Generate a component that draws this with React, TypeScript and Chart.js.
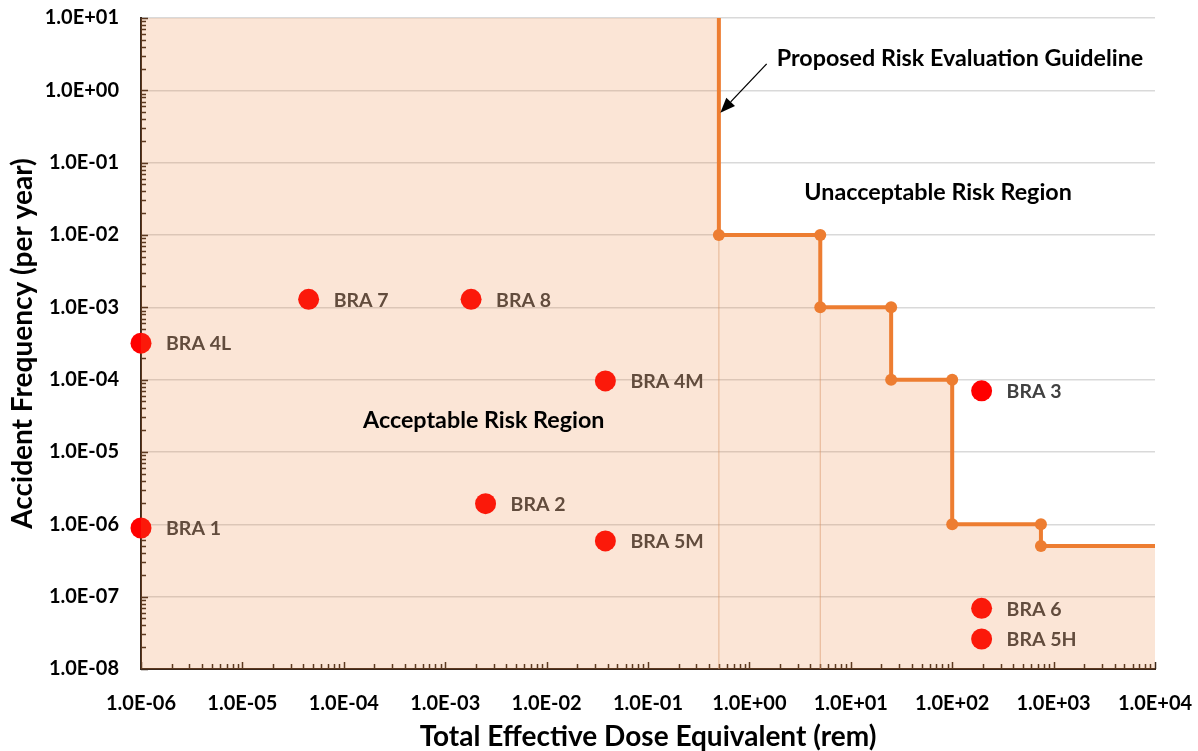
import { useEffect, useRef } from "react";
import { Chart, registerables } from "chart.js";

Chart.register(...registerables);

// Axis ranges (log decades)
const doseMin = 1e-6;
const doseMax = 1e4;
const freqMin = 1e-8;
const freqMax = 10;

// Assessed accident scenarios
const braNames = ["BRA 1", "BRA 4L", "BRA 7", "BRA 8", "BRA 2", "BRA 4M", "BRA 5M", "BRA 3", "BRA 6", "BRA 5H"];
const braDose = [1e-6, 1e-6, 4.5e-5, 1.8e-3, 2.5e-3, 3.8e-2, 3.8e-2, 195, 195, 195];
const braFreq = [8.9e-7, 3.2e-4, 1.29e-3, 1.29e-3, 1.93e-6, 9.6e-5, 5.9e-7, 7e-5, 6.9e-8, 2.6e-8];

// Proposed risk evaluation guideline (stepped frequency/dose limit)
const guideDose = [0.5, 0.5, 5, 5, 25, 25, 100, 100, 750, 750, 1e4];
const guideFreq = [10, 1e-2, 1e-2, 1e-3, 1e-3, 1e-4, 1e-4, 1e-6, 1e-6, 5e-7, 5e-7];

// Faint drop lines under the first two steps
const dropDose = [0.5, 5];
const dropTop = [1e-2, 1e-3];

// Region and guideline annotations (anchored in data coordinates)
const noteTexts = ["Proposed Risk Evaluation Guideline", "Unacceptable Risk Region", "Acceptable Risk Region"];
const noteDose = [1.86, 72.6, 2.4e-3];
const noteFreq = [2.76, 0.039, 2.7e-5];
const noteAlign: CanvasTextAlign[] = ["left", "center", "center"];
const arrowFrom = { x: 1.48, y: 2.32 };
const arrowTo = { x: 0.517, y: 0.49 };

const FONT = "Lato, 'Open Sans', sans-serif";
const ORANGE = "#ED7D31";
const AXIS = "#3a281c";

const fmtExp = (v: number) => {
  const e = Math.round(Math.log10(v));
  const sign = e < 0 ? "-" : "+";
  const abs = Math.abs(e);
  return `1.0E${sign}${abs < 10 ? "0" + abs : abs}`;
};

const decadeTicks = (lo: number, hi: number) => {
  const out: { value: number; major: boolean }[] = [];
  for (let e = Math.round(Math.log10(lo)); e <= Math.round(Math.log10(hi)); e++) {
    out.push({ value: Math.pow(10, e), major: true });
  }
  return out;
};

// dataset order in the array: guideline, region fill, drop lines..., scenarios
const SCATTER_INDEX = 2 + dropDose.length;

export default function App() {
  const canvasRef = useRef<HTMLCanvasElement | null>(null);

  useEffect(() => {
    const canvas = canvasRef.current;
    if (!canvas) return;

    const guidePts = guideDose.map((x, i) => ({ x, y: guideFreq[i] }));
    const regionPts = [{ x: doseMin, y: freqMax }, ...guidePts];
    const markerRadius = guidePts.map((_, i) => (i === 0 || i === guidePts.length - 1 ? 0 : 6));

    // Inward minor/major tick marks on both log axes
    const innerTicks = {
      id: "innerTicks",
      beforeDatasetsDraw(chart: any) {
        const { ctx, chartArea, scales } = chart;
        const xs = scales.x;
        const ys = scales.y;
        ctx.save();
        ctx.strokeStyle = AXIS;
        ctx.lineWidth = 1.5;
        ctx.beginPath();
        for (let e = Math.log10(freqMin); e <= Math.log10(freqMax); e++) {
          for (let m = 1; m <= 9; m++) {
            const v = m * Math.pow(10, e);
            if (v > freqMax * 1.0001) break;
            const py = Math.round(ys.getPixelForValue(v)) + 0.5;
            const len = m === 1 ? 7 : 5;
            ctx.moveTo(chartArea.left, py);
            ctx.lineTo(chartArea.left + len, py);
          }
        }
        for (let e = Math.log10(doseMin); e <= Math.log10(doseMax); e++) {
          for (let m = 1; m <= 9; m++) {
            const v = m * Math.pow(10, e);
            if (v > doseMax * 1.0001) break;
            const px = Math.round(xs.getPixelForValue(v)) + 0.5;
            const len = m === 1 ? 7 : 5;
            ctx.moveTo(px, chartArea.bottom);
            ctx.lineTo(px, chartArea.bottom - len);
          }
        }
        ctx.stroke();
        ctx.restore();
      },
    };

    // Scenario names beside each point (drawn right after the points)
    const pointLabels = {
      id: "pointLabels",
      afterDatasetDraw(chart: any, args: any) {
        if (args.index !== SCATTER_INDEX) return;
        const { ctx } = chart;
        const meta = chart.getDatasetMeta(SCATTER_INDEX);
        ctx.save();
        ctx.font = `bold 19.5px ${FONT}`;
        ctx.fillStyle = "#404040";
        ctx.textAlign = "left";
        ctx.textBaseline = "middle";
        meta.data.forEach((pt: any, i: number) => {
          ctx.fillText(braNames[i], pt.x + 25, pt.y + 1);
        });
        ctx.restore();
      },
    };

    // Region captions and the guideline call-out arrow
    const annotations = {
      id: "annotations",
      afterDatasetsDraw(chart: any) {
        const { ctx, scales } = chart;
        const xs = scales.x;
        const ys = scales.y;
        ctx.save();
        ctx.font = `bold 23.3px ${FONT}`;
        ctx.fillStyle = "#000000";
        ctx.textBaseline = "middle";
        noteTexts.forEach((t, i) => {
          ctx.textAlign = noteAlign[i];
          ctx.fillText(t, xs.getPixelForValue(noteDose[i]), ys.getPixelForValue(noteFreq[i]));
        });
        const x0 = xs.getPixelForValue(arrowFrom.x);
        const y0 = ys.getPixelForValue(arrowFrom.y);
        const x1 = xs.getPixelForValue(arrowTo.x);
        const y1 = ys.getPixelForValue(arrowTo.y);
        const ang = Math.atan2(y1 - y0, x1 - x0);
        const headLen = 15;
        const headHalf = 6;
        const bx = x1 - headLen * Math.cos(ang);
        const by = y1 - headLen * Math.sin(ang);
        ctx.strokeStyle = "#000000";
        ctx.lineWidth = 1.3;
        ctx.beginPath();
        ctx.moveTo(x0, y0);
        ctx.lineTo(bx, by);
        ctx.stroke();
        ctx.beginPath();
        ctx.moveTo(x1, y1);
        ctx.lineTo(bx + headHalf * Math.sin(ang), by - headHalf * Math.cos(ang));
        ctx.lineTo(bx - headHalf * Math.sin(ang), by + headHalf * Math.cos(ang));
        ctx.closePath();
        ctx.fill();
        ctx.restore();
      },
    };

    const chart = new Chart(canvas, {
      type: "scatter",
      data: {
        datasets: [
          {
            label: "Proposed Risk Evaluation Guideline",
            data: guidePts,
            showLine: true,
            borderColor: ORANGE,
            borderWidth: 4,
            backgroundColor: ORANGE,
            pointBackgroundColor: ORANGE,
            pointBorderWidth: 0,
            pointRadius: markerRadius,
            fill: false,
            order: 0,
            clip: 6,
          } as any,
          {
            label: "Acceptable Risk Region",
            data: regionPts,
            showLine: true,
            borderWidth: 0,
            borderColor: "rgba(0,0,0,0)",
            backgroundColor: "rgba(237,125,49,0.2)",
            pointRadius: 0,
            fill: "start",
            order: 1,
          } as any,
          ...dropDose.map((d, i) => ({
            label: "drop",
            data: [
              { x: d, y: dropTop[i] },
              { x: d, y: freqMin },
            ],
            showLine: true,
            borderColor: "rgba(215,160,125,0.25)",
            borderWidth: 1,
            pointRadius: 0,
            fill: false,
            order: 2,
          })) as any,
          {
            label: "Scenarios",
            data: braDose.map((x, i) => ({ x, y: braFreq[i] })),
            backgroundColor: "#FF0000",
            pointBackgroundColor: "#FF0000",
            pointBorderWidth: 0,
            pointRadius: 10.5,
            clip: false,
            order: 3,
          } as any,
        ],
      },
      options: {
        animation: false,
        responsive: false,
        events: [],
        layout: { padding: { top: 18, right: 43, bottom: 0, left: 0 } },
        plugins: {
          legend: { display: false },
          tooltip: { enabled: false },
        },
        scales: {
          x: {
            type: "logarithmic",
            min: doseMin,
            max: doseMax,
            afterFit: (s: any) => {
              s.height = 82;
              s.paddingLeft = 0;
              s.paddingRight = 0;
            },
            afterBuildTicks: (s: any) => {
              s.ticks = decadeTicks(doseMin, doseMax);
            },
            grid: { display: false, drawTicks: false },
            border: { display: true, color: AXIS, width: 2 },
            ticks: {
              autoSkip: false,
              maxRotation: 0,
              minRotation: 0,
              padding: 23,
              color: "#000000",
              font: { family: FONT, size: 20, weight: "bold" },
              callback: (v: any) => fmtExp(Number(v)),
            },
            title: {
              display: true,
              text: "Total Effective Dose Equivalent (rem)",
              color: "#000000",
              font: { family: FONT, size: 28, weight: "bold", lineHeight: 1.0 },
              padding: { top: 0, bottom: 0 },
            },
          },
          y: {
            type: "logarithmic",
            min: freqMin,
            max: freqMax,
            afterFit: (s: any) => {
              s.width = 141;
              s.paddingTop = 0;
              s.paddingBottom = 0;
            },
            afterBuildTicks: (s: any) => {
              s.ticks = decadeTicks(freqMin, freqMax);
            },
            grid: { display: true, drawTicks: false, color: "#D9D9D9", lineWidth: 1.5 },
            border: { display: true, color: AXIS, width: 2 },
            ticks: {
              autoSkip: false,
              padding: 22,
              color: "#000000",
              font: { family: FONT, size: 20, weight: "bold" },
              callback: (v: any) => fmtExp(Number(v)),
            },
            title: {
              display: true,
              text: "Accident Frequency (per year)",
              color: "#000000",
              font: { family: FONT, size: 28, weight: "bold", lineHeight: 1.1 },
              padding: { top: 8, bottom: 0 },
            },
          },
        },
      } as any,
      plugins: [innerTicks, pointLabels, annotations],
    });

    return () => chart.destroy();
  }, []);

  return (
    <div style={{ position: "absolute", left: 0, top: 0, width: 1198, height: 751, background: "#ffffff" }}>
      <canvas ref={canvasRef} width={1198} height={751} style={{ display: "block" }} />
    </div>
  );
}
